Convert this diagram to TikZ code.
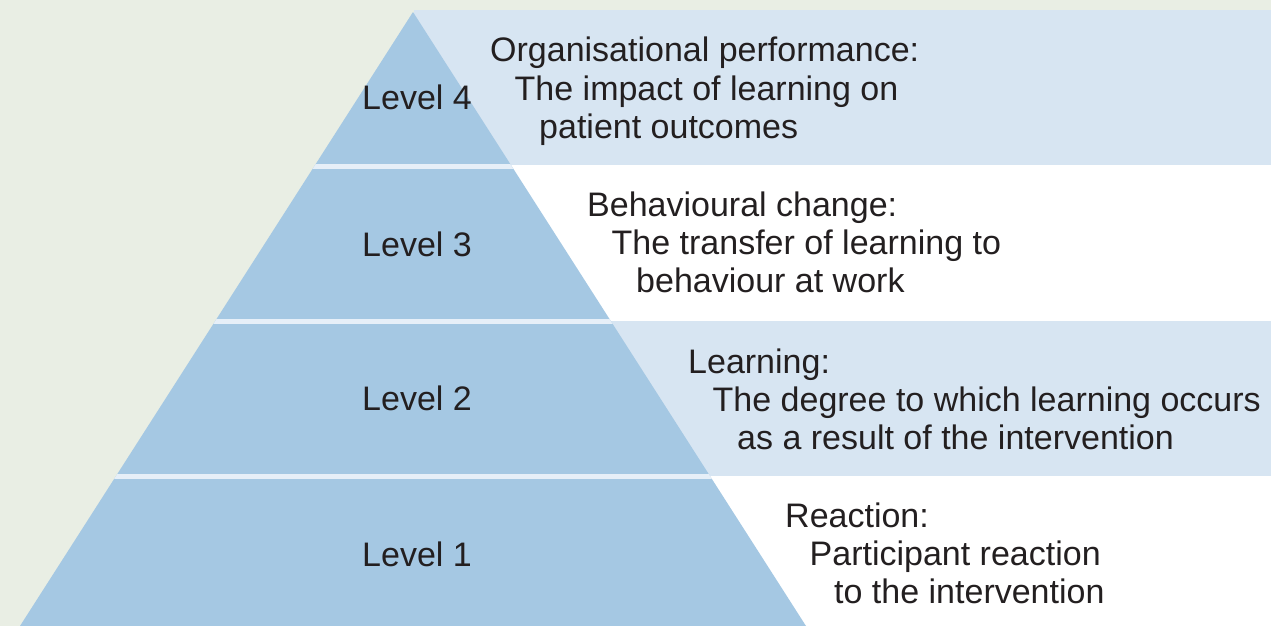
\documentclass[tikz,border=0pt]{standalone}
\usepackage{fontspec}
\setmainfont{Liberation Sans}
\definecolor{bggreen}{HTML}{E9EEE4}
\definecolor{pyrblue}{HTML}{A5C8E3}
\definecolor{bandblue}{HTML}{D7E5F2}
\definecolor{gapblue}{HTML}{E6EFF8}
\definecolor{ink}{HTML}{231F20}
\tikzset{
  txt/.style={anchor=base west, inner sep=0pt, text=ink,
    font=\fontsize{34}{38}\selectfont},
}
\begin{document}
\begin{tikzpicture}[x=1pt, y=-1pt]
\useasboundingbox (0,0) rectangle (1271,626);
\fill [bggreen] (0,0) rectangle (1271,626);
% bands behind the text
\fill [bandblue] (414,10) rectangle (1271,165);
\fill [white] (414,165) rectangle (1271,321);
\fill [bandblue] (414,321) rectangle (1271,476);
\fill [white] (414,476) rectangle (1271,626);
% pyramid
\fill [pyrblue] (20,626)--(413,12)--(806,626)--cycle;
\begin{scope}
  \clip (20,626)--(413,12)--(806,626)--cycle;
  \foreach \g in {163.5,319,474}
  {
    \fill [gapblue] (0,\g) rectangle (1271,\g+5);
  }
\end{scope}
% levels and their texts
\foreach \n/\yl/\yh/\xh/\ta/\tb/\tc in
  {4/109/62/490/{Organisational performance:}/{The impact of learning on}/{patient outcomes},
   3/256/216/587/{Behavioural change:}/{The transfer of learning to}/{behaviour at work},
   2/410/373/688/{Learning:}/{The degree to which learning occurs}/{as a result of the intervention},
   1/566/527/785/{Reaction:}/{Participant reaction}/{to the intervention}}
{
    \node [txt] (lvl\n) at (362,\yl) {Level \n};
    \node [txt] (head\n) at (\xh,\yh) {\ta};
    \node [txt] (linea\n) at (\xh+24.5,\yh+38) {\tb};
    \node [txt] (lineb\n) at (\xh+49,\yh+76) {\tc};
}
\end{tikzpicture}
\end{document}
